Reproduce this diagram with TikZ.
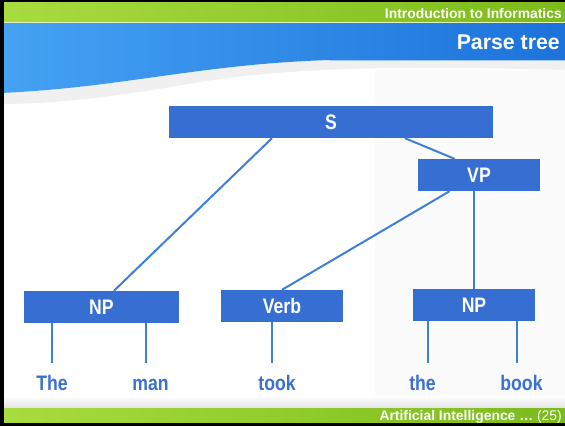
\documentclass[tikz,border=0pt]{standalone}
\usepackage{fontspec}
\setmainfont{Liberation Sans}
\usepackage{graphicx}
\usetikzlibrary{calc}

\definecolor{boxblue}{HTML}{366ED2}
\definecolor{linkblue}{HTML}{3D80DC}
\definecolor{wordblue}{HTML}{3A70D2}
\definecolor{barlight}{HTML}{A9DC3E}
\definecolor{bardark}{HTML}{7BBB1B}
\definecolor{bandlight}{HTML}{46A2F4}
\definecolor{banddark}{HTML}{1C72DA}

% narrowed bold lettering used throughout the tree
\newcommand{\narrowtext}[1]{\scalebox{0.84}[1]{#1}}

\tikzset{
  cat/.style={fill=boxblue, text=white, inner sep=0pt, minimum height=32pt,
              font=\fontsize{21}{24}\selectfont\bfseries},
  word/.style={text=wordblue, inner sep=0pt, anchor=base,
               font=\fontsize{21}{24}\selectfont\bfseries},
  link/.style={draw=linkblue, line width=2pt},
  headtext/.style={text=white, inner sep=0pt, anchor=base east},
}

\begin{document}
\begin{tikzpicture}[x=1pt,y=-1pt]
\useasboundingbox (0,0) rectangle (565,426);

% slide background
\fill[white] (0,0) rectangle (565,426);
\fill[gray!3] (375,70) rectangle (565,398);

% green header bar
\shade[left color=barlight, right color=bardark] (0,2) rectangle (565,23);
\draw[white!65!barlight, line width=1pt] (0,22.5) -- (565,22.5);

% grey swoosh below the blue band
\fill[gray!12] (0,93) .. controls (120,88) and (200,64) .. (330,60) -- (565,60)
  -- (565,70) .. controls (420,66) and (300,66) .. (200,82)
  .. controls (120,96) and (60,104) .. (0,104) -- cycle;

% blue title band
\shade[left color=bandlight, right color=banddark]
  (0,23) -- (565,23) -- (565,60) -- (330,60)
  .. controls (200,64) and (120,88) .. (0,93) -- cycle;
\draw[white!60!banddark, line width=0.8pt] (330,60) -- (565,60);

% footer
\shade[top color=white, bottom color=gray!22] (0,396) rectangle (565,408);
\shade[left color=barlight, right color=bardark] (0,408) rectangle (565,423);

% black frame
\fill[black] (0,0) rectangle (565,2);
\fill[black] (0,0) rectangle (4,426);
\fill[black] (0,423) rectangle (565,426);

% header and footer texts
\node[headtext, font=\fontsize{13.9}{16}\selectfont\bfseries] (course) at (562,18) {Introduction to Informatics};
\node[headtext, font=\fontsize{21.3}{24}\selectfont\bfseries] (title) at (560,49) {Parse tree};
\node[headtext, font=\fontsize{13.9}{16}\selectfont] (footer) at (562,420) {\textbf{Artificial Intelligence …} (25)};

% category boxes
\node[cat, minimum width=324pt] (S)    at (331,122)   {\narrowtext{S}};
\node[cat, minimum width=122pt] (VP)   at (479,175)   {\narrowtext{VP}};
\node[cat, minimum width=155pt] (NP1)  at (101.5,307) {\narrowtext{NP}};
\node[cat, minimum width=122pt] (Verb) at (282,306)   {\narrowtext{Verb}};
\node[cat, minimum width=122pt] (NP2)  at (474,305)   {\narrowtext{NP}};

% words
\node[word] (wThe)  at (52,390)    {\narrowtext{The}};
\node[word] (wMan)  at (150.5,390) {\narrowtext{man}};
\node[word] (wTook) at (277,390)   {\narrowtext{took}};
\node[word] (wthe)  at (422.5,390) {\narrowtext{the}};
\node[word] (wBook) at (521.5,390) {\narrowtext{book}};

% lower ends of the leaf branches
\coordinate (eThe)  at (52,363);
\coordinate (eMan)  at (146,363);
\coordinate (eTook) at (272,363);
\coordinate (ethe)  at (428,363);
\coordinate (eBook) at (517,363);

% branches
\draw[link] ($(S.south west)!0.318!(S.south east)$) -- ($(NP1.north west)!0.58!(NP1.north east)$);
\draw[link] ($(S.south west)!0.728!(S.south east)$) -- ($(VP.north west)!0.30!(VP.north east)$);
\draw[link] ($(VP.south west)!0.26!(VP.south east)$) -- (Verb.north);
\draw[link] (VP.south -| NP2.north) -- (NP2.north);

\draw[link] (NP1.south -| eThe) -- (eThe);
\draw[link] (NP1.south -| eMan) -- (eMan);
\draw[link] (Verb.south -| eTook) -- (eTook);
\draw[link] (NP2.south -| ethe) -- (ethe);
\draw[link] (NP2.south -| eBook) -- (eBook);
\end{tikzpicture}
\end{document}
